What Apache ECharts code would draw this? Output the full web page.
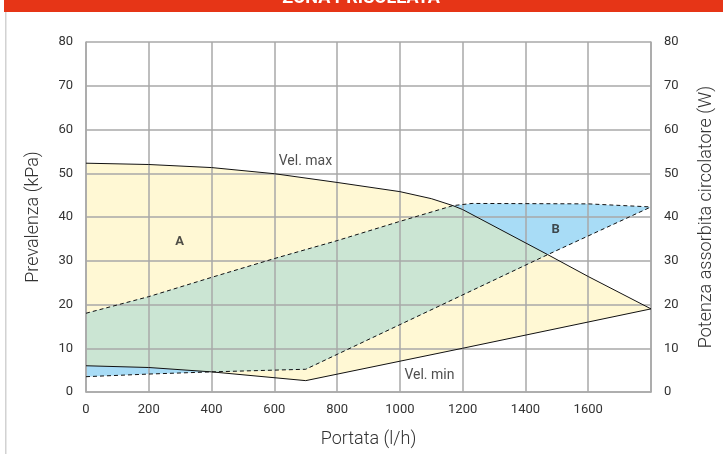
<!DOCTYPE html>
<html>
<head>
<meta charset="utf-8">
<script src="https://cdn.jsdelivr.net/npm/echarts@6/dist/echarts.min.js"></script>
<style>
  html, body { margin: 0; padding: 0; background: #fff; }
  #chart { width: 723px; height: 454px; }
</style>
</head>
<body>
<div id="chart"></div>
<script>
// Portata (l/h) / Prevalenza (kPa) – curve.
const X_TICKS = [0, 200, 400, 600, 800, 1000, 1200, 1400, 1600];

// curva velocità massima (kPa)
const velMax = [
  [0, 52.3], [200, 52.0], [400, 51.3], [600, 49.9], [800, 47.9],
  [1000, 45.8], [1100, 44.2], [1169, 42.6], [1200, 41.7], [1471, 31.4],
  [1600, 26.4], [1800, 19.0],
];
// curva velocità minima (kPa)
const velMin = [
  [0, 6.0], [200, 5.6], [400, 4.6], [700, 2.6], [1200, 10.0],
  [1600, 16.0], [1800, 19.0],
];
// potenza assorbita, limite superiore (W)
const powerMax = [
  [0, 18.0], [200, 21.8], [400, 26.2], [600, 30.5], [800, 34.6],
  [1000, 39.0], [1169, 42.6], [1230, 43.1], [1600, 43.0], [1800, 42.3],
];
// potenza assorbita, limite inferiore (W)
const powerMin = [
  [0, 3.5], [200, 4.1], [400, 4.6], [700, 5.2], [1471, 31.4], [1800, 42.3],
];
// punti di incrocio fra le curve (l/h)
const CROSS_TOP = 1169;
const CROSS_RIGHT = 1471;
const CROSS_LOW = 400;

const labels = [
  { name: "Vel. max", value: [699, 52.7], bold: false },
  { name: "Vel. min", value: [1094, 3.8], bold: false },
  { name: "A", value: [298, 34.3], bold: true },
  { name: "B", value: [1496, 37.0], bold: true },
];

const YELLOW = "#fff8d4";
const GREEN = "#cbe5d3";
const BLUE = "#a8dcf6";
const GRID_GRAY = "#a9a9a9";
const TEXT = "#333333";
const FONT = "Roboto, 'DejaVu Sans', sans-serif";

const rev = (a) => a.slice().reverse();
const between = (a, lo, hi) => a.filter((p) => p[0] >= lo && p[0] <= hi);

// zone: campo di lavoro (giallo), campo potenze (blu), intersezione (verde)
const yellowZone = velMax.concat(rev(velMin));
const blueZone = powerMax.concat(rev(powerMin));
const greenZone = between(powerMax, 0, CROSS_TOP)
  .concat(between(velMax, CROSS_TOP, CROSS_RIGHT))
  .concat(rev(between(powerMin, CROSS_LOW, CROSS_RIGHT)))
  .concat(rev(between(velMin, 0, CROSS_LOW)));

function zoneSeries(points, color, z) {
  return {
    type: "custom",
    coordinateSystem: "cartesian2d",
    silent: true,
    z: z,
    data: [points[0]],
    renderItem: function (params, api) {
      return {
        type: "polygon",
        shape: { points: points.map((p) => api.coord(p)) },
        style: { fill: color },
      };
    },
  };
}

function lineSeries(data, dashed, yAxisIndex) {
  return {
    type: "line",
    data: data,
    yAxisIndex: yAxisIndex,
    showSymbol: false,
    silent: true,
    z: 6,
    lineStyle: {
      color: "#111",
      width: 1,
      type: dashed ? [4, 3] : "solid",
    },
  };
}

const chart = echarts.init(document.getElementById("chart"), null, { renderer: "canvas" });

const yAxisBase = {
  type: "value",
  min: 0,
  max: 80,
  interval: 10,
  z: 4,
  nameLocation: "middle",
  nameTextStyle: { fontFamily: FONT, fontSize: 18, fontWeight: 300, color: TEXT },
  axisLine: { show: true, lineStyle: { color: GRID_GRAY, width: 1.5 } },
  axisTick: { show: false },
  axisLabel: { fontFamily: FONT, fontSize: 13, color: TEXT, margin: 13 },
};

chart.setOption({
  animation: false,
  grid: { left: 86, right: 69, top: 42, bottom: 62 },
  xAxis: {
    type: "value",
    min: 0,
    max: 1800,
    interval: 200,
    z: 4,
    name: "Portata (l/h)",
    nameLocation: "middle",
    nameGap: 38,
    nameTextStyle: { fontFamily: FONT, fontSize: 18, fontWeight: 300, color: TEXT },
    axisLine: { show: true, lineStyle: { color: GRID_GRAY, width: 1.5 } },
    axisTick: { show: false },
    axisLabel: {
      fontFamily: FONT, fontSize: 13, color: TEXT, margin: 11,
      formatter: (v) => (X_TICKS.indexOf(v) >= 0 ? String(v) : ""),
    },
    splitLine: { show: true, lineStyle: { color: GRID_GRAY, width: 1.5 } },
  },
  yAxis: [
    Object.assign({}, yAxisBase, {
      position: "left",
      name: "Prevalenza (kPa)",
      nameGap: 44,
      splitLine: { show: true, lineStyle: { color: GRID_GRAY, width: 1.5 } },
    }),
    Object.assign({}, yAxisBase, {
      position: "right",
      name: "Potenza assorbita circolatore (W)",
      nameGap: 46,
      splitLine: { show: false },
    }),
  ],
  graphic: [
    { type: "rect", shape: { x: 4, y: 0, width: 719, height: 12 }, style: { fill: "#e63517" }, z: 10 },
    {
      type: "text", x: 361, y: -11, z: 11,
      style: { text: "ZONA PRISOLEATA", fill: "#fff", font: "bold 18px " + FONT, align: "center", verticalAlign: "top" },
    },
    { type: "rect", shape: { x: 5, y: 12, width: 1.5, height: 442 }, style: { fill: "#d2d2d2" }, z: 10 },
  ],
  series: [
    zoneSeries(yellowZone, YELLOW, 1),
    zoneSeries(blueZone, BLUE, 2),
    zoneSeries(greenZone, GREEN, 3),
    lineSeries(velMax, false, 0),
    lineSeries(velMin, false, 0),
    lineSeries(powerMax, true, 1),
    lineSeries(powerMin, true, 1),
    {
      type: "scatter",
      silent: true,
      z: 7,
      symbolSize: 0,
      data: labels.map((l) => ({
        value: l.value,
        label: {
          show: true,
          position: "inside",
          formatter: l.name,
          fontFamily: FONT,
          fontSize: l.bold ? 13 : 14,
          fontWeight: l.bold ? "bold" : "normal",
          color: "#222",
        },
      })),
    },
  ],
});
</script>
</body>
</html>
